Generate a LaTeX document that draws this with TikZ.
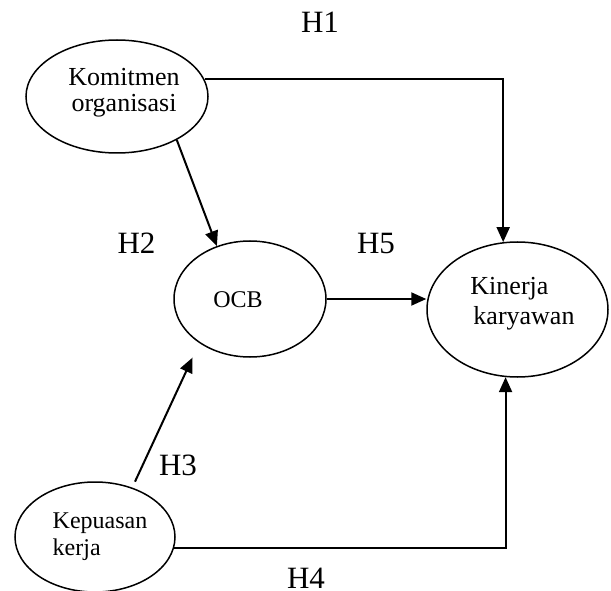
\documentclass[tikz,border=0pt]{standalone}
\usepackage{fontspec}
\setmainfont{Liberation Serif}
\usetikzlibrary{shapes.geometric,arrows.meta}
\begin{document}
\begin{tikzpicture}[x=1pt,y=-1pt,
  ell/.style={draw, ellipse, line width=1.5pt, inner sep=0pt},
  conn/.style={line width=2pt, -{Triangle[length=15pt,width=13pt]}},
  hlbl/.style={font=\fontsize{31}{34}\selectfont, inner sep=0pt},
  txtA/.style={font=\fontsize{26}{26}\selectfont, inner sep=0pt},
  txtB/.style={font=\fontsize{24}{27}\selectfont, inner sep=0pt}]
\useasboundingbox (0,0) rectangle (611,591);
% ellipses
\node[ell, minimum width=182pt, minimum height=113pt] (k) at (117,96.5) {};
\node[ell, minimum width=152pt, minimum height=116pt] (o) at (250,299) {};
\node[ell, minimum width=181pt, minimum height=135pt] (kin) at (517.5,309.5) {};
\node[ell, minimum width=160pt, minimum height=110pt] (kp) at (95,537) {};
% texts
\node[txtA, align=center, font=\fontsize{26}{26}\selectfont] (kt) at (124,92.5) {Komitmen\\organisasi};
\node[txtB] (ot) at (238,300) {OCB};
\node[txtA, align=left, font=\fontsize{26}{30}\selectfont] (kint) at (522.5,303.5) {Kinerja\\\hspace*{3pt}karyawan};
\node[txtB, align=left] (kpt) at (100,537) {Kepuasan\\kerja};
% labels
\node[hlbl] (h1) at (320,22) {H1};
\node[hlbl] (h2) at (136.5,243.5) {H2};
\node[hlbl] (h5) at (376,243.5) {H5};
\node[hlbl] (h3) at (178,465.5) {H3};
\node[hlbl] (h4) at (306,578.5) {H4};
% connectors
\draw[conn] (k.11.4) -| (kin.102.3);
\draw[conn] (k.-36.9) -- (o.122.4);
\draw[conn] (o.east) -- (o.east -| kin.west);
\draw[conn, shorten <=6.5pt, shorten >=16pt] (kp.53.6) -- (o.221.3);
\draw[conn] (kp.-8) -| (kin.-100.6);
\end{tikzpicture}
\end{document}
